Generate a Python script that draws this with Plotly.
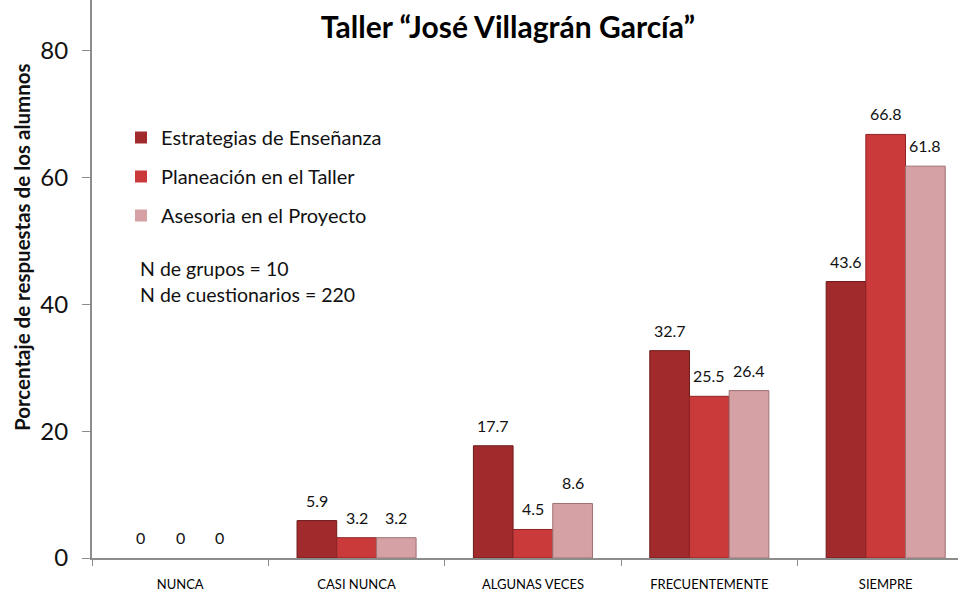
import plotly.graph_objects as go

categories = ["NUNCA", "CASI NUNCA", "ALGUNAS VECES", "FRECUENTEMENTE", "SIEMPRE"]
series_names = ["Estrategias de Enseñanza", "Planeación en el Taller", "Asesoria en el Proyecto"]
estrategias = [0, 5.9, 17.7, 32.7, 43.6]
planeacion = [0, 3.2, 4.5, 25.5, 66.8]
asesoria = [0, 3.2, 8.6, 26.4, 61.8]
y_ticks = [0, 20, 40, 60, 80]

series_values = [estrategias, planeacion, asesoria]
colors = ["#A02A2C", "#CB3A3B", "#D6A1A4"]
lines = ["#6E1A1B", "#8E2325", "#9E7072"]

W, H = 958, 592
ml, mr, mt, mb = 92, 0, 0, 34
plot_w = W - ml - mr
plot_h = H - mt - mb
x_range = [-0.5, 4.41]
px_per_cat = plot_w / (x_range[1] - x_range[0])
bargap = 0.325
bar_px = px_per_cat * (1 - bargap) / 3


def px(xp):
    return (xp - ml) / plot_w


def py(yp):
    return (H - mb - yp) / plot_h


label_font = "Lato, 'Open Sans', sans-serif"
text_font = "Lato, sans-serif"

fig = go.Figure()
for i, (name, vals) in enumerate(zip(series_names, series_values)):
    fig.add_trace(go.Bar(
        x=categories, y=vals, name=name,
        marker=dict(color=colors[i],
                    line=dict(color=lines[i], width=[0 if v == 0 else 1 for v in vals])),
        legendgroup=f"g{i}",
    ))
    for c, v in zip(categories, vals):
        fig.add_annotation(
            x=c, y=v, xref="x", yref="y", text=f"{v:g}", showarrow=False,
            xanchor="center", yanchor="bottom", yshift=9,
            xshift=(i - 1) * bar_px,
            font=dict(family=label_font, size=16, color="#111"),
        )

fig.update_layout(
    width=W, height=H,
    margin=dict(l=ml, r=mr, t=mt, b=mb),
    paper_bgcolor="white", plot_bgcolor="white",
    barmode="group", bargap=bargap, bargroupgap=0,
    showlegend=True,
    legend=dict(x=px(121), y=py(118), xanchor="left", yanchor="top",
                font=dict(family=text_font, size=20, color="#111"),
                tracegroupgap=10, bgcolor="rgba(0,0,0,0)", itemwidth=30),
    title=dict(text="<b>Taller “José Villagrán García”</b>", x=508 / W, xanchor="center",
               y=1 - 27 / H, yanchor="middle",
               font=dict(family=text_font, size=30, color="#000")),
    font=dict(family=label_font),
)
fig.update_xaxes(range=x_range, showline=True, linecolor="#8c8c8c", linewidth=2,
                 ticks="outside", tickson="boundaries", ticklen=6, tickcolor="#8c8c8c",
                 ticklabelstandoff=13,
                 tickfont=dict(family=label_font, size=13, color="#000"), showgrid=False)
fig.update_yaxes(range=[0, 88], tickvals=y_ticks, showline=True, linecolor="#8c8c8c", linewidth=2,
                 ticks="outside", ticklen=8, tickcolor="#8c8c8c", showgrid=False, zeroline=False,
                 ticklabelstandoff=9,
                 tickfont=dict(family=text_font, size=24, color="#111"))

fig.add_annotation(x=px(22), y=py(247), xref="paper", yref="paper",
                   text="<b>Porcentaje de respuestas de los alumnos</b>", textangle=-90,
                   showarrow=False, xanchor="center", yanchor="middle",
                   font=dict(family=text_font, size=20.5, color="#111"))
fig.add_annotation(x=px(138), y=py(268), xref="paper", yref="paper",
                   text="N de grupos = 10", showarrow=False, xanchor="left", yanchor="middle",
                   font=dict(family=text_font, size=19.5, color="#111"))
fig.add_annotation(x=px(138), y=py(294), xref="paper", yref="paper",
                   text="N de cuestionarios = 220", showarrow=False, xanchor="left", yanchor="middle",
                   font=dict(family=text_font, size=19.5, color="#111"))

fig.write_html("out.html", config={"displayModeBar": False},
               post_script="document.body.style.margin='0px';")
